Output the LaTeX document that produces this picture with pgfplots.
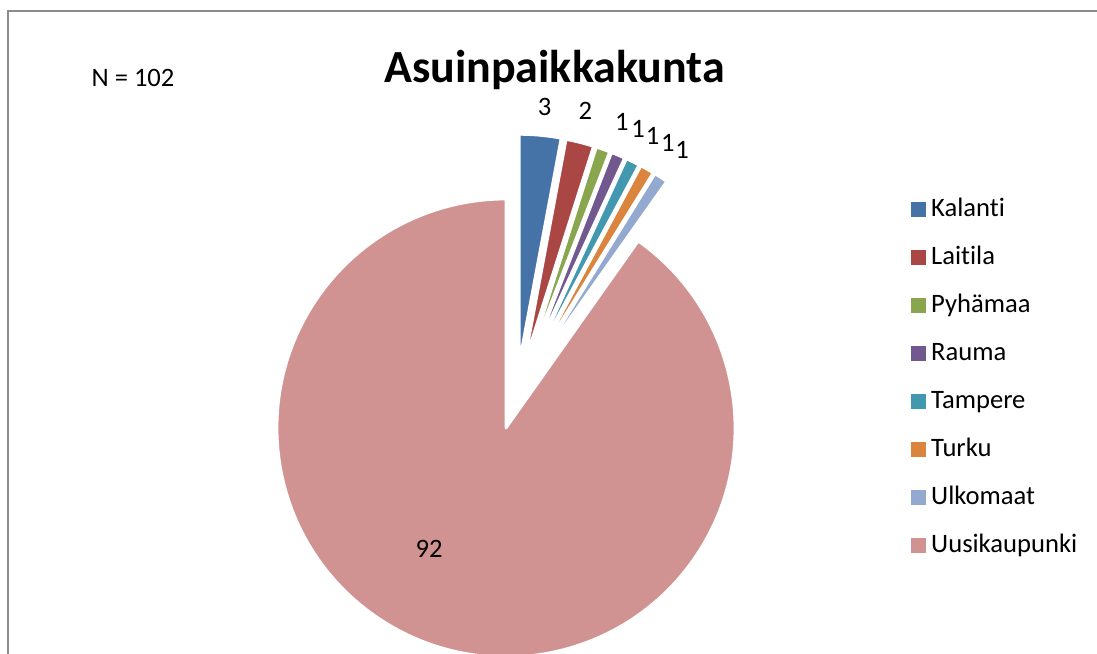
\documentclass[border=0pt]{standalone}
\usepackage{fontspec}
\setmainfont{Carlito}[Ligatures=NoCommon]
\usepackage{pgfplots}
\usepackage{pgfplotstable}
\pgfplotsset{compat=1.18}

\definecolor{pie0}{HTML}{4572A7}
\definecolor{pie1}{HTML}{AA4643}
\definecolor{pie2}{HTML}{89A54E}
\definecolor{pie3}{HTML}{71588F}
\definecolor{pie4}{HTML}{4198AF}
\definecolor{pie5}{HTML}{DB843D}
\definecolor{pie6}{HTML}{93A9CF}
\definecolor{pie7}{HTML}{D19392}
\definecolor{framegray}{HTML}{8C8C8C}

% value, explosion (px), label angle adjust (deg), label distance (px)
\pgfplotstableread{
value explode ladj ldist
3  66 -0.4  258
2  66  0.5  261
1  66 -1.9  261
1  66 -1.8  261
1  66 -1.4  261
1  66 -1.1  262
1  66 -0.5  264
92 0  -14.9 143
}\piedata

\def\cx{506}\def\cy{225}

% precompute slice geometry
\xdef\total{0}
\foreach \i in {0,...,7}{%
  \pgfplotstablegetelem{\i}{value}\of\piedata
  \pgfmathsetmacro\t{\total+\pgfplotsretval}
  \xdef\total{\t}
}
\xdef\curang{90}
\foreach \i in {0,...,7}{%
  \pgfplotstablegetelem{\i}{value}\of\piedata
  \let\v\pgfplotsretval
  \pgfmathsetmacro\sweep{\v/\total*360}
  \pgfplotstablegetelem{\i}{explode}\of\piedata
  \let\ex\pgfplotsretval
  \pgfplotstablegetelem{\i}{ladj}\of\piedata
  \let\la\pgfplotsretval
  \pgfplotstablegetelem{\i}{ldist}\of\piedata
  \let\ld\pgfplotsretval
  \pgfmathsetmacro\endang{\curang-\sweep}
  \pgfmathsetmacro\midang{\curang-\sweep/2}
  \pgfmathsetmacro\offang{0.5*\midang+36.2}
  \pgfmathsetmacro\ox{\cx+\ex*cos(\offang)}
  \pgfmathsetmacro\oy{\cy+\ex*sin(\offang)}
  \pgfmathsetmacro\lx{\ox+\ld*cos(\midang+\la)}
  \pgfmathsetmacro\ly{\oy+\ld*sin(\midang+\la)}
  \expandafter\xdef\csname sa\i\endcsname{\curang}
  \expandafter\xdef\csname ea\i\endcsname{\endang}
  \expandafter\xdef\csname ox\i\endcsname{\ox}
  \expandafter\xdef\csname oy\i\endcsname{\oy}
  \expandafter\xdef\csname lx\i\endcsname{\lx}
  \expandafter\xdef\csname ly\i\endcsname{\ly}
  \expandafter\xdef\csname lv\i\endcsname{\v}
  \xdef\curang{\endang}
}

\begin{document}
\begin{tikzpicture}
\begin{axis}[
  x=0.5pt, y=0.5pt,
  xmin=0, xmax=1097, ymin=0, ymax=653,
  hide axis,
  legend style={
    draw=none, fill=none,
    at={(axis cs:905,463)}, anchor=north west,
    font=\fontsize{13.3}{16}\selectfont,
    row sep=9pt,
    nodes={inner sep=1pt, text height=10pt, text depth=3pt},
  },
  legend cell align=left,
  legend image code/.code={\fill[#1] (0pt,-3.5pt) rectangle (7pt,3.5pt);},
]
% frame
\draw[framegray, line width=1pt] (axis cs:8,-5) -- (axis cs:8,642) -- (axis cs:1105,642);

% slices
\pgfplotsinvokeforeach{0,...,7}{
  \fill[pie#1, draw=white, line width=1.4pt, line join=round]
    (axis cs:\csname ox#1\endcsname,\csname oy#1\endcsname)
    -- ++(\csname sa#1\endcsname:114.5pt)
    arc[start angle=\csname sa#1\endcsname, end angle=\csname ea#1\endcsname, radius=114.5pt]
    -- cycle;
  \node[font=\fontsize{13.3}{16}\selectfont, inner sep=0pt]
    at (axis cs:\csname lx#1\endcsname,\csname ly#1\endcsname) {\csname lv#1\endcsname};
}

% title and sample size
\node[font=\bfseries\fontsize{23}{27}\selectfont, anchor=base]
  at (axis cs:554.5,570) {Asuinpaikkakunta};
\node[font=\fontsize{13.3}{16}\selectfont] at (axis cs:133,575) {N = 102};

\addlegendimage{pie0}\addlegendentry{\hspace{1.5pt}Kalanti}
\addlegendimage{pie1}\addlegendentry{\hspace{1.5pt}Laitila}
\addlegendimage{pie2}\addlegendentry{\hspace{1.5pt}Pyhämaa}
\addlegendimage{pie3}\addlegendentry{\hspace{1.5pt}Rauma}
\addlegendimage{pie4}\addlegendentry{\hspace{1.5pt}Tampere}
\addlegendimage{pie5}\addlegendentry{\hspace{1.5pt}Turku}
\addlegendimage{pie6}\addlegendentry{\hspace{1.5pt}Ulkomaat}
\addlegendimage{pie7}\addlegendentry{\hspace{1.5pt}Uusikaupunki}
\end{axis}
\pgfresetboundingbox
\path (current axis.south west) rectangle (current axis.north east);
\end{tikzpicture}
\end{document}
